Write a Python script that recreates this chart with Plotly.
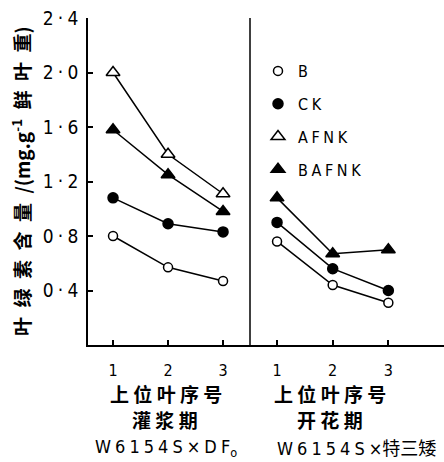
import plotly.graph_objects as go

SP = "\u2005"   # four-per-em space for letter spacing
EN = "\u2002"   # en space

# Upper leaf position (1 = flag leaf)
leaf_pos = [1, 2, 3]
y_ticks = [0.4, 0.8, 1.2, 1.6, 2.0, 2.4]
y_ticktext = ["0" + SP + "·" + SP + "4", "0" + SP + "·" + SP + "8",
              "1" + SP + "·" + SP + "2", "1" + SP + "·" + SP + "6",
              "2" + SP + "·" + SP + "0", "2" + SP + "·" + SP + "4"]

series_names = ["B", "CK", "AFNK", "BAFNK"]

# 灌浆期, W6154S×DF0 — chlorophyll content (mg·g-1 fresh leaf)
grain_B = [0.80, 0.57, 0.47]
grain_CK = [1.08, 0.89, 0.83]
grain_AFNK = [2.00, 1.40, 1.11]
grain_BAFNK = [1.58, 1.25, 0.98]

# 开花期, W6154S×特三矮
flower_B = [0.76, 0.44, 0.31]
flower_CK = [0.90, 0.56, 0.40]
flower_BAFNK = [1.08, 0.67, 0.70]

LATIN = "DejaVu Sans Condensed, Liberation Sans Narrow, Roboto, sans-serif"
CJK = "Noto Sans CJK SC, sans-serif"

styles = {
    "B": dict(symbol="circle", size=9, color="white"),
    "CK": dict(symbol="circle", size=10, color="black"),
    "AFNK": dict(symbol="triangle-up", size=12, color="white"),
    "BAFNK": dict(symbol="triangle-up", size=12, color="black"),
}


def add_series(fig, name, values, xaxis):
    st = styles[name]
    fig.add_trace(go.Scatter(
        x=leaf_pos, y=values, mode="lines+markers", xaxis=xaxis, yaxis="y",
        line=dict(color="black", width=1.5),
        marker=dict(symbol=st["symbol"], size=st["size"], color=st["color"],
                    line=dict(color="black", width=1.5)),
        showlegend=False, cliponaxis=False,
    ))


fig = go.Figure()
add_series(fig, "B", grain_B, "x")
add_series(fig, "CK", grain_CK, "x")
add_series(fig, "AFNK", grain_AFNK, "x")
add_series(fig, "BAFNK", grain_BAFNK, "x")
add_series(fig, "B", flower_B, "x2")
add_series(fig, "CK", flower_CK, "x2")
add_series(fig, "BAFNK", flower_BAFNK, "x2")

# legend entries (markers only)
for name in series_names:
    st = styles[name]
    fig.add_trace(go.Scatter(
        x=[None], y=[None], mode="markers", name=SP.join(name), xaxis="x2", yaxis="y",
        legendgroup=name,
        marker=dict(symbol=st["symbol"], size=st["size"], color=st["color"],
                    line=dict(color="black", width=1.5)),
    ))

split = (250 - 88) / 356

axis_common = dict(
    showline=True, linecolor="black", linewidth=1.5, ticks="inside", ticklen=5,
    tickcolor="black", tickwidth=1.5, showgrid=False, zeroline=False,
    tickvals=leaf_pos, ticktext=[str(v) for v in leaf_pos],
    tickfont=dict(family=LATIN, size=16, color="black"), ticklabelstandoff=10,
    fixedrange=True,
)

fig.update_layout(
    width=444, height=462,
    margin=dict(l=88, r=0, t=18, b=117),
    paper_bgcolor="white", plot_bgcolor="white",
    xaxis=dict(domain=[0, split], range=[0.545, 3.49], anchor="y", **axis_common),
    xaxis2=dict(domain=[split, 1], range=[0.514, 4.0], anchor="y", **axis_common),
    yaxis=dict(
        range=[0, 2.4], showline=True, linecolor="black", linewidth=1.5,
        ticks="inside", ticklen=5, tickcolor="black", tickwidth=1.5,
        tickvals=y_ticks, ticktext=y_ticktext, showgrid=False, zeroline=False,
        tickfont=dict(family=LATIN, size=19, color="black"), ticklabelstandoff=4,
    ),
    legend=dict(
        x=(258 - 88) / 356, y=(345 - 54) / 327, xanchor="left", yanchor="top",
        bgcolor="rgba(0,0,0,0)", tracegroupgap=9,
        font=dict(family=LATIN, size=16, color="black"),
    ),
    shapes=[dict(type="line", xref="paper", yref="paper", x0=split, x1=split,
                 y0=0, y1=1, line=dict(color="black", width=1.5))],
)

ann_font_cjk = dict(family=CJK, size=19, color="black")
ann_font_lat = dict(family=LATIN + ", " + CJK, size=18, color="black")


def px(xp):
    return (xp - 88) / 356


def py(yp):
    return (345 - yp) / 327


y_title = (EN.join("叶绿素含量") + EN + "/(mg.g<sup>-1</sup>" + EN
           + EN.join("鲜叶重") + ")")

annotations = [
    dict(text="<b>上 位 叶 序 号</b>", x=px(166), y=py(393), font=ann_font_cjk),
    dict(text="<b>上 位 叶 序 号</b>", x=px(330), y=py(393), font=ann_font_cjk),
    dict(text="<b>灌 浆 期</b>", x=px(165), y=py(419), font=ann_font_cjk),
    dict(text="<b>开 花 期</b>", x=px(330), y=py(419), font=ann_font_cjk),
    dict(text=SP.join("W6154S×DF") + "<sub>o</sub>", x=px(166), y=py(448),
         font=ann_font_lat),
    dict(text=SP.join("W6154S×") + "特三矮", x=px(356), y=py(448), font=ann_font_lat),
    dict(text="<b>" + y_title + "</b>", x=px(21), y=py(181),
         textangle=-90, font=dict(family=CJK, size=19, color="black")),
]
for a in annotations:
    a.update(xref="paper", yref="paper", showarrow=False,
             xanchor="center", yanchor="middle")
fig.update_layout(annotations=annotations)

fig.write_html("out.html")
